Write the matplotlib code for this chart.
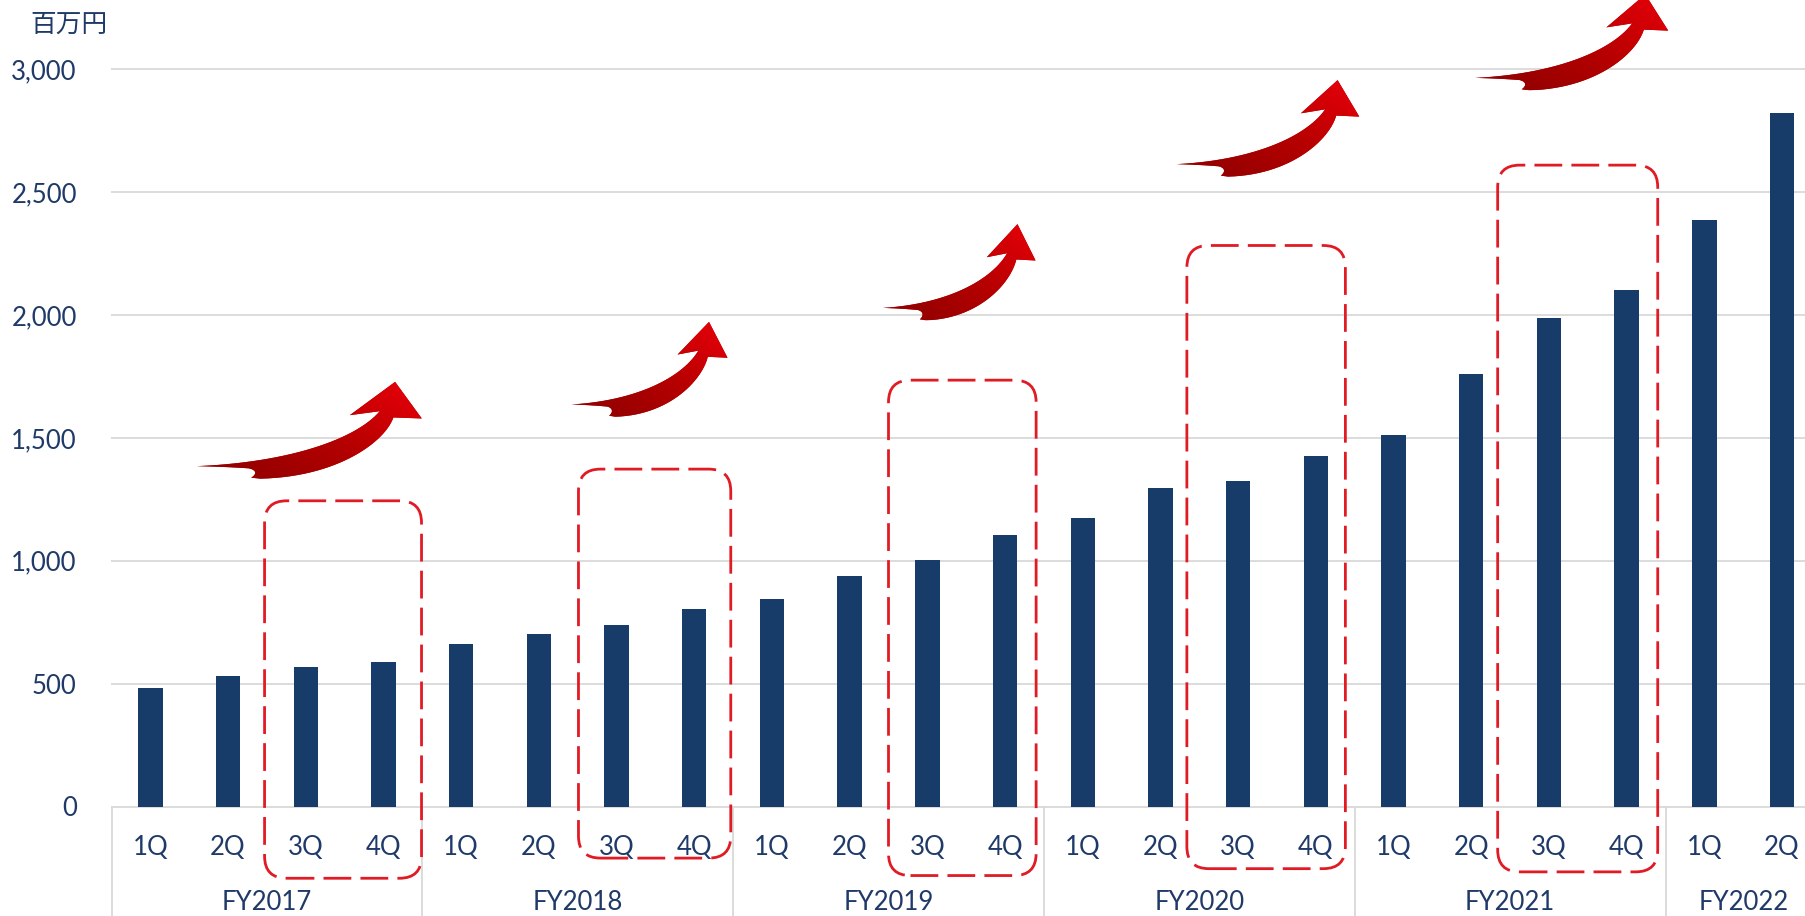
import matplotlib
matplotlib.use("Agg")
import matplotlib.pyplot as plt
import matplotlib.transforms as mtransforms
from matplotlib.patches import Polygon, FancyBboxPatch
from matplotlib.colors import LinearSegmentedColormap
import numpy as np

# ---------------- data ----------------
years = ["FY2017", "FY2018", "FY2019", "FY2020", "FY2021", "FY2022"]
quarters_per_year = [4, 4, 4, 4, 4, 2]
quarter_names = ["1Q", "2Q", "3Q", "4Q"]
values = [483, 530, 568, 587,
          662, 704, 737, 803,
          845, 939, 1005, 1103,
          1174, 1296, 1324, 1427,
          1512, 1761, 1986, 2103,
          2385, 2822]
yticks = [0, 500, 1000, 1500, 2000, 2500, 3000]
unit_label = "百万円"

# highlight boxes (category units / value units)
box_x0 = [1.47, 5.51, 9.50, 13.34, 17.34]
box_x1 = [3.49, 7.47, 11.40, 15.38, 19.40]
box_top = [1244, 1373, 1735, 2283, 2610]
box_bottom = [-292, -210, -281, -253, -266]

# growth arrows (tail -> tip)
arrow_tail_x = [0.60, 5.42, 9.43, 13.21, 17.05]
arrow_tail_y = [1385, 1636, 2029, 2614, 2965]
arrow_tip_x = [3.15, 7.19, 11.16, 15.28, 19.24]
arrow_tip_y = [1728, 1972, 2370, 2956, 3305]

# ---------------- style ----------------
plt.rcParams["font.family"] = ["Lato", "Noto Sans CJK JP", "DejaVu Sans"]
TXT = "#1f3a68"
BAR = "#173c69"
GRID = "#d9d9d9"
RED = "#e01b24"

W, H = 1806, 916
fig = plt.figure(figsize=(W / 100, H / 100), dpi=100)

px_left = 111.5
cat_w = 77.7
y0_px = 806.5
px_per_unit = (806.5 - 69.3) / 3000.0
ylo, yhi = -15, 3015
ax_bottom_px = y0_px - ylo * px_per_unit
ax_top_px = y0_px - yhi * px_per_unit
n = len(values)
ax = fig.add_axes([px_left / W, (H - ax_bottom_px) / H,
                   n * cat_w / W, (ax_bottom_px - ax_top_px) / H])
ax.set_xlim(-0.5, n - 0.5)
ax.set_ylim(ylo, yhi)
for s in ax.spines.values():
    s.set_visible(False)

x = np.arange(n)
ax.bar(x, values, width=0.315, color=BAR, zorder=3)

ax.set_yticks(yticks)
ax.set_yticklabels([f"{v:,}" for v in yticks])
ax.tick_params(axis="y", length=0, pad=25, labelsize=18.5, labelcolor=TXT)
ax.set_xticks([])
ax.yaxis.grid(True, color=GRID, lw=1.3)
ax.set_axisbelow(True)

# category labels
q_trans = mtransforms.offset_copy(ax.transData, fig=fig, x=0, y=-48.4, units="dots")
y_trans = mtransforms.offset_copy(ax.transData, fig=fig, x=0, y=-103.4, units="dots")
i = 0
start = 0
for yr, nq in zip(years, quarters_per_year):
    for q in range(nq):
        ax.text(i, 0, quarter_names[q], transform=q_trans, ha="center",
                va="baseline", fontsize=18.5, color=TXT)
        i += 1
    ax.text(start + (nq - 1) / 2, 0, yr, transform=y_trans, ha="center",
            va="baseline", fontsize=18.5, color=TXT)
    ax.plot([start - 0.5, start - 0.5], [0, -460], color=GRID, lw=1.3,
            clip_on=False, zorder=1)
    start += nq

fig.text(30 / W, 1 - 25 / H, unit_label, fontsize=18.5,
         family=["Noto Sans CJK JP"], ha="left", va="center", color=TXT)

# ---------------- overlay: boxes and arrows ----------------
ov = fig.add_axes([0, 0, 1, 1])
ov.axis("off")

for bx0, bx1, bt, bb in zip(box_x0, box_x1, box_top, box_bottom):
    p0 = ax.transData.transform((bx0, bb))
    p1 = ax.transData.transform((bx1, bt))
    patch = FancyBboxPatch((p0[0], p0[1]), p1[0] - p0[0], p1[1] - p0[1],
                           boxstyle="round,pad=0,rounding_size=22",
                           fill=False, edgecolor=RED, lw=2.0,
                           linestyle=(0, (10, 3.3)), transform=ov.transData,
                           zorder=4)
    ov.add_patch(patch)


def bez(p0, c1, c2, p1, k=30):
    t = np.linspace(0, 1, k)[:, None]
    p0, c1, c2, p1 = map(np.asarray, (p0, c1, c2, p1))
    return ((1 - t) ** 3) * p0 + 3 * ((1 - t) ** 2) * t * c1 + 3 * (1 - t) * t ** 2 * c2 + t ** 3 * p1


# swoosh arrow template (pixels, y up, tail at origin)
upper = bez((0, 0), (95, 4), (160, 28), (183, 55))
head = np.array([(153, 51), (198.3, 84.3), (225, 47.7), (196.6, 48.7)])
lower = bez((196.6, 48.7), (188, 24), (140, -11), (63.3, -12.5))
notch = np.vstack([[(54.3, -11.5)], bez((54.3, -11.5), (60, -8), (60, -4), (52, -2.2), 10)])
tail = bez((52, -2.2), (35, -1.0), (15, -0.3), (0, 0), 12)
tpl = np.vstack([upper, head, lower, notch, tail])
TPL_DX, TPL_DY = 198.3, 84.3
cmap = LinearSegmentedColormap.from_list("arr", ["#8a0000", "#b30000", "#e8000a"])

for tx_, ty_, px_, py_ in zip(arrow_tail_x, arrow_tail_y, arrow_tip_x, arrow_tip_y):
    t = ax.transData.transform((tx_, ty_))
    p = ax.transData.transform((px_, py_))
    sx = (p[0] - t[0]) / TPL_DX
    sy = (p[1] - t[1]) / TPL_DY
    pts = np.column_stack([t[0] + tpl[:, 0] * sx, t[1] + tpl[:, 1] * sy])
    poly = Polygon(pts, closed=True, facecolor="#b80000", edgecolor="none",
                   transform=ov.transData, zorder=5)
    ov.add_patch(poly)
    xmin, ymin = pts.min(axis=0)
    xmax, ymax = pts.max(axis=0)
    X, Y = np.meshgrid(np.linspace(0, 1, 200), np.linspace(0, 1, 100))
    G = 0.55 * X + 0.45 * Y
    im = ov.imshow(G, extent=[xmin, xmax, ymin, ymax], origin="lower",
                   cmap=cmap, aspect="auto", zorder=6, interpolation="bilinear")
    im.set_clip_path(poly)

ov.set_xlim(0, W)
ov.set_ylim(0, H)

fig.savefig("out.png", dpi=100)
